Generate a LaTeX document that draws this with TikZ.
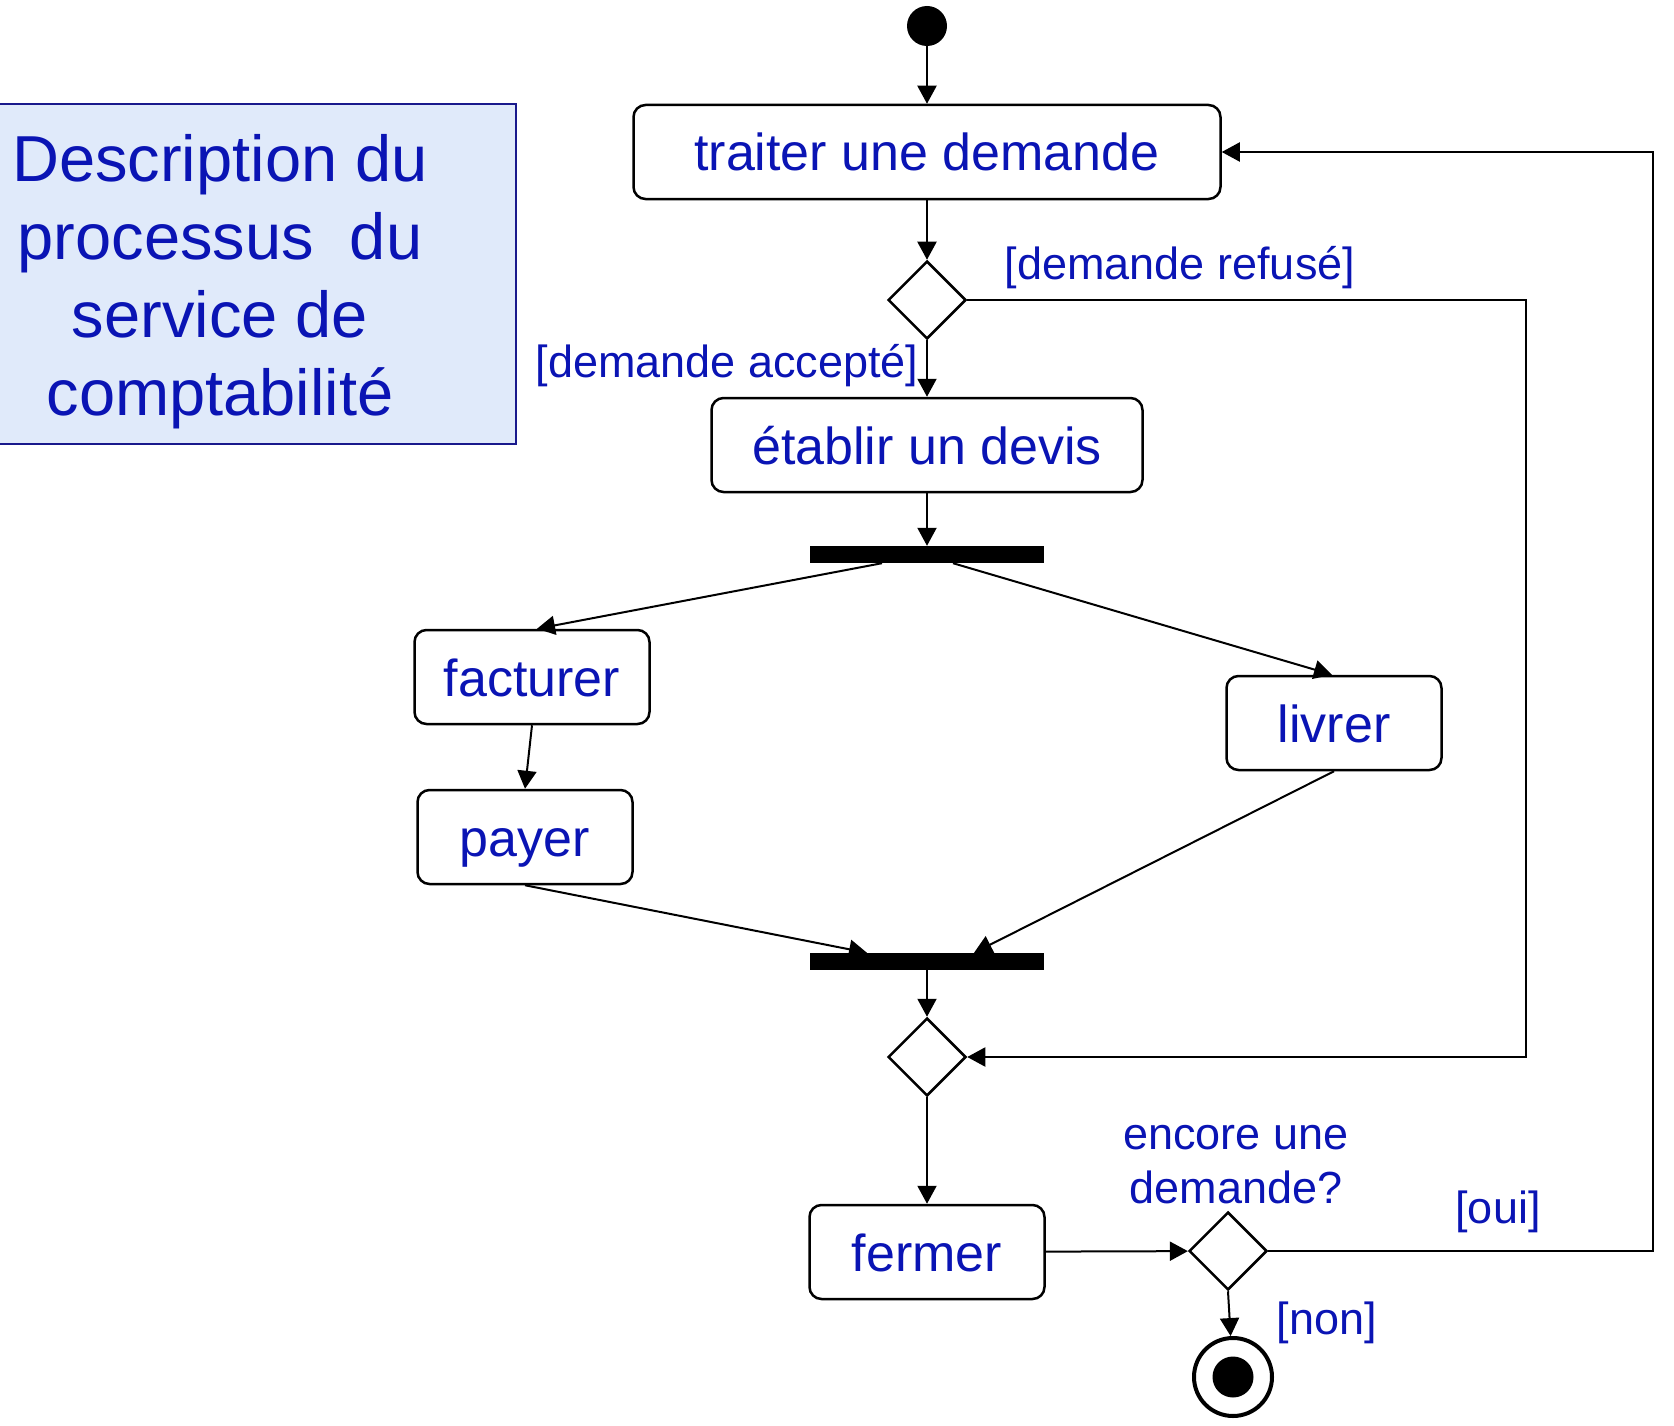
\documentclass[tikz,border=0pt]{standalone}
\usepackage{fontspec}
\setmainfont{Liberation Sans}
\usetikzlibrary{arrows.meta,shapes.geometric}
\definecolor{T}{RGB}{10, 20, 180}
\definecolor{F}{RGB}{224, 234, 250}
\definecolor{E}{RGB}{25, 25, 140}

\tikzset{
  act/.style={draw, line width=2.5pt, rounded corners=12pt, minimum height=94pt,
    inner sep=0pt, text height=48pt, text depth=10pt, text=T,
    font=\fontsize{52}{62}\selectfont},
  dec/.style={draw, diamond, aspect=1, line width=2.5pt, minimum size=78pt, inner sep=0pt},
  bar/.style={fill=black, minimum width=234pt, minimum height=17pt, inner sep=0pt},
  lab/.style={text=T, inner sep=0pt, align=center, font=\fontsize{45}{54}\selectfont},
  arr/.style={line width=2pt, -{Triangle[length=18pt,width=19pt]}},
}

\begin{document}
\begin{tikzpicture}[x=1pt, y=-1pt]
  \useasboundingbox (0,0) rectangle (1674,1426);
  % titre
  \draw[E, fill=F, line width=2.5pt] (-2,104) rectangle (516,444);
  \node[text=T, align=center, inner sep=0pt, font=\fontsize{65}{78}\selectfont] (titre) at (220,282)
    {Description du\\processus \ du\\service de\\comptabilité};
  % noeuds
  \node[circle, fill=black, minimum size=40pt, inner sep=0pt] (debut) at (927,26) {};
  \node[act, minimum width=587pt] (trait) at (927,152) {traiter une demande};
  \node[dec] (dec1) at (927,300) {};
  \node[act, minimum width=431pt] (devis) at (927,445) {établir un devis};
  \node[bar] (fork) at (927,554.5) {};
  \node[act, minimum width=235pt] (fact) at (532,677) {facturer};
  \node[act, minimum width=215pt] (livr) at (1334,723) {livrer};
  \node[act, minimum width=215pt] (pay) at (525,837) {payer};
  \node[bar] (join) at (927,961.5) {};
  \node[dec] (dec2) at (927,1057) {};
  \node[act, minimum width=235pt] (ferm) at (927,1252) {fermer};
  \node[dec] (dec3) at (1228,1251) {};
  \node[circle, draw, line width=4pt, minimum size=78pt, inner sep=0pt] (fin) at (1233,1377) {};
  \fill (fin) circle (20.5);
  % etiquettes
  \node[lab] (refuse) at (1180,268) {[demande refusé]};
  \node[lab] (accepte) at (727,366) {[demande accepté]};
  \node[lab] (encore) at (1236,1165) {encore une\\demande?};
  \node[lab] (oui) at (1498,1212) {[oui]};
  \node[lab] (non) at (1327,1323) {[non]};
  % transitions
  \draw[arr] (debut) -- (trait);
  \draw[arr] (trait) -- (dec1);
  \draw[arr] (dec1) -- (devis);
  \draw[arr] (devis) -- (fork);
  \draw[arr] ([xshift=-45pt]fork.south) -- ([xshift=5pt]fact.north);
  \draw[arr] ([xshift=26pt]fork.south) -- ([xshift=-2pt]livr.north);
  \draw[arr] (fact.south) -- (pay.north);
  \draw[arr] (pay.south) -- ([xshift=-60pt]join.north);
  \draw[arr] (livr.south) -- ([xshift=47pt]join.north);
  \draw[arr] (join) -- (dec2);
  \draw[arr] (dec2) -- (ferm);
  \draw[arr] (ferm) -- (dec3);
  \draw[arr] (dec3.south) -- (fin);
  \draw[arr] (dec1.east) -- ++(559,0) |- (dec2.east);
  \draw[arr] (dec3.east) -- ++(385,0) |- (trait.east);
\end{tikzpicture}
\end{document}
